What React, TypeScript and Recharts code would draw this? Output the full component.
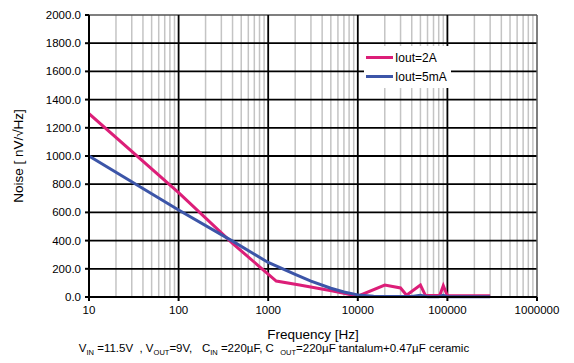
import React from "react";
import { LineChart, Line, XAxis, YAxis, ReferenceLine } from "recharts";

// Iout=2A noise curve (Hz, nV/√Hz)
const pinkFreq = [10, 100, 400, 1230, 2240, 5260, 10000, 20000, 30000, 35000, 50000, 57000, 82000, 90000, 100000, 300000];
const pinkNoise = [1300, 740, 380, 113, 85, 42, 6, 85, 64, 12, 85, 10, 10, 80, 8, 8];

// Iout=5mA noise curve
const blueFreq = [10, 100, 400, 1000, 2000, 3000, 5000, 7000, 10000, 15000, 20000, 40000, 50000, 60000, 80000, 90000, 100000, 300000];
const blueNoise = [1000, 617, 396, 245, 160, 112, 62, 36, 15, 6, 3, 3, 12, 2, 2, 12, 2, 2];

const xTicks = [10, 100, 1000, 10000, 100000, 1000000];
const yTicks = [0, 200, 400, 600, 800, 1000, 1200, 1400, 1600, 1800, 2000];
const minorX = [10, 100, 1000, 10000, 100000].flatMap((d) => [2, 3, 4, 5, 6, 7, 8, 9].map((m) => d * m));

const pinkData = pinkFreq.map((f, i) => ({ f, v: pinkNoise[i] }));
const blueData = blueFreq.map((f, i) => ({ f, v: blueNoise[i] }));

const PINK = "#dc1e78";
const BLUE = "#3c55a8";
const FONT = "'Liberation Sans', Arial, sans-serif";

const series = [
  { name: "Iout=2A", color: PINK },
  { name: "Iout=5mA", color: BLUE },
];

export default function App() {
  return (
    <div style={{ position: "absolute", left: 0, top: 0, width: 574, height: 363, background: "#fff" }}>
      <LineChart width={574} height={363} margin={{ top: 15, right: 37, left: 0, bottom: 46 }}>
        <XAxis
          dataKey="f"
          type="number"
          scale="log"
          domain={[10, 1000000]}
          ticks={xTicks}
          allowDataOverflow
          height={20}
          tickSize={4}
          tickMargin={5}
          stroke="#000"
          strokeWidth={2}
          tick={{ fill: "#000", fontSize: 11.5, fontFamily: FONT }}
          label={{ value: "Frequency [Hz]", position: "insideBottom", offset: -22, fill: "#000", fontSize: 13.5, fontFamily: FONT }}
        />
        <YAxis
          type="number"
          domain={[0, 2000]}
          ticks={yTicks}
          width={89}
          tickSize={4}
          tickMargin={4}
          stroke="#000"
          strokeWidth={2}
          tickFormatter={(v: number) => v.toFixed(1)}
          tick={{ fill: "#000", fontSize: 11.5, fontFamily: FONT }}
          label={{ value: "Noise [ nV/√Hz]", angle: -90, position: "insideLeft", offset: 18, fill: "#000", fontSize: 13.5, fontFamily: FONT, style: { textAnchor: "middle" } }}
        />
        {minorX.map((x) => (
          <ReferenceLine key={"m" + x} x={x} stroke="#c4c4c4" strokeWidth={1.5} />
        ))}
        {yTicks.slice(1, -1).map((y) => (
          <ReferenceLine key={"h" + y} y={y} stroke="#000" strokeWidth={1.8} />
        ))}
        <ReferenceLine y={2000} stroke="#555" strokeWidth={1.5} />
        {xTicks.slice(1, -1).map((x) => (
          <ReferenceLine key={"v" + x} x={x} stroke="#000" strokeWidth={1.8} />
        ))}
        <ReferenceLine x={1000000} stroke="#555" strokeWidth={1.5} />
        <Line data={pinkData} dataKey="v" name="Iout=2A" stroke={PINK} strokeWidth={3} dot={false} isAnimationActive={false} />
        <Line data={blueData} dataKey="v" name="Iout=5mA" stroke={BLUE} strokeWidth={3} dot={false} isAnimationActive={false} />
      </LineChart>
      <div
        style={{
          position: "absolute",
          left: 364,
          top: 46,
          background: "#fff",
          padding: "2px 4px 2px 2px",
          fontFamily: FONT,
          fontSize: 12,
          color: "#000",
        }}
      >
        {series.map((s) => (
          <div key={s.name} style={{ display: "flex", alignItems: "center", height: 19 }}>
            <span style={{ display: "inline-block", width: 27, height: 3, background: s.color, marginRight: 2 }} />
            <span>{s.name}</span>
          </div>
        ))}
      </div>
      <div
        style={{
          position: "absolute",
          left: 0,
          width: 574,
          top: 342,
          textAlign: "center",
          fontFamily: FONT,
          fontSize: 11.5,
          color: "#000",
          whiteSpace: "pre",
          paddingRight: 26,
          boxSizing: "border-box",
        }}
      >
        V<sub style={{ fontSize: 7.5 }}>IN</sub>{" =11.5V  , V"}<sub style={{ fontSize: 7.5 }}>OUT</sub>
        {"=9V,   C"}<sub style={{ fontSize: 7.5 }}>IN</sub>{" =220µF, C  "}<sub style={{ fontSize: 7.5 }}>OUT</sub>
        {"=220µF tantalum+0.47µF ceramic"}
      </div>
    </div>
  );
}
